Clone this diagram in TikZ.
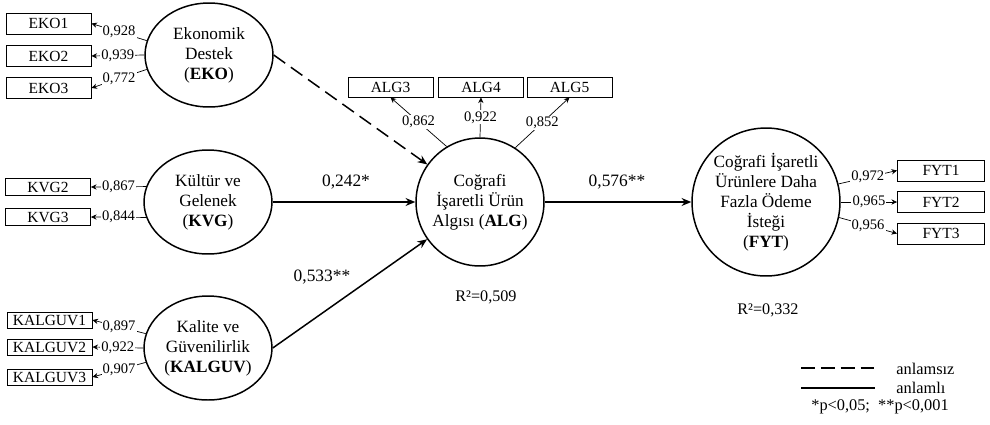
\documentclass[tikz,border=0pt]{standalone}
\usepackage{fontspec}
\setmainfont{Liberation Serif}
\usepackage{tikz}
\usetikzlibrary{shapes.geometric,arrows.meta}

\begin{document}
\begin{tikzpicture}[x=0.02cm,y=-0.02cm,
    latent/.style={draw,ellipse,line width=0.85pt,inner sep=0pt,minimum width=2.56cm,minimum height=2.08cm,align=center,font=\fontsize{9.8}{11.4}\selectfont},
    latentc/.style={draw,circle,line width=0.85pt,inner sep=0pt,align=center,font=\fontsize{9.8}{11.4}\selectfont},
    indic/.style={draw,rectangle,line width=0.5pt,inner sep=0pt,minimum width=1.7cm,minimum height=0.42cm,font=\fontsize{8.8}{10}\selectfont},
    load/.style={-{Stealth[length=3.2pt,width=3pt]},line width=0.4pt},
    wgt/.style={fill=white,inner sep=0.6pt,font=\fontsize{8.3}{9}\selectfont},
    effect/.style={-{Stealth[length=5.5pt,width=4.5pt]},line width=0.85pt},
    nonsig/.style={dash pattern=on 8pt off 4pt},
    coef/.style={inner sep=0pt,font=\fontsize{9.9}{11}\selectfont},
    rsq/.style={inner sep=0pt,font=\fontsize{9.2}{10}\selectfont},
    legtext/.style={inner sep=0pt,font=\fontsize{9.3}{10}\selectfont}
  ]
    \useasboundingbox (0,0) rectangle (990,424);

    % latent constructs
    \node[latent] (EKO) at (209,55) {Ekonomik\\Destek\\(\textbf{EKO})};
    \node[latent] (KVG) at (208,202) {Kültür ve\\Gelenek\\(\textbf{KVG})};
    \node[latent] (KALGUV) at (208,348) {Kalite ve\\Güvenilirlik\\(\textbf{KALGUV})};
    \node[latentc,minimum size=2.56cm] (ALG) at (480,202) {Coğrafi\\İşaretli Ürün\\Algısı (\textbf{ALG})};
    \node[latentc,minimum size=2.96cm] (FYT) at (766,202) {Coğrafi İşaretli\\Ürünlere Daha\\Fazla Ödeme\\İsteği\\(\textbf{FYT})};

    % indicators
    \foreach \n/\y in {1/23.5,2/56,3/88}
      \node[indic] (EKO\n) at (48.5,\y) {EKO\n};
    \foreach \n/\y in {2/187,3/217}
      \node[indic,minimum height=0.33cm] (KVG\n) at (48,\y) {KVG\n};
    \foreach \n/\y in {1/320,2/347,3/377}
      \node[indic,minimum height=0.32cm] (KALGUV\n) at (49.5,\y) {KALGUV\n};
    \foreach \n/\x in {3/390.5,4/481,5/569.5}
      \node[indic,minimum height=0.4cm] (ALG\n) at (\x,87) {ALG\n};
    \foreach \n/\y in {1/170.5,2/202,3/233.5}
      \node[indic,minimum width=1.74cm] (FYT\n) at (941,\y) {FYT\n};

    % loadings
    \foreach \n/\a/\w in {1/167/{0,928},2/180/{0,939},3/193/{0,772}}
      \draw[load] (EKO.\a) -- node[wgt] {\w} (EKO\n.east);
    \foreach \n/\a/\w in {2/166/{0,867},3/194/{0,844}}
      \draw[load] (KVG.\a) -- node[wgt] {\w} (KVG\n.east);
    \foreach \n/\a/\w in {1/167/{0,897},2/180/{0,922},3/193/{0,907}}
      \draw[load] (KALGUV.\a) -- node[wgt] {\w} (KALGUV\n.east);
    \foreach \n/\a/\w in {3/121/{0,862},4/90/{0,922},5/57/{0,852}}
      \draw[load] (ALG.\a) -- node[wgt] {\w} (ALG\n.south);
    \foreach \n/\a/\w in {1/14/{0,972},2/0/{0,965},3/-12/{0,956}}
      \draw[load] (FYT.\a) -- node[wgt] {\w} (FYT\n.west);

    % structural paths
    \draw[effect,nonsig] (EKO.east) -- (ALG);
    \draw[effect] (KVG) -- (ALG);
    \draw[effect] (KALGUV.east) -- (ALG);
    \draw[effect] (ALG) -- (FYT);

    \node[coef] (b1) at (346,182) {0,242*};
    \node[coef] (b2) at (322,277) {0,533**};
    \node[coef] (b3) at (617,182) {0,576**};
    \node[rsq] (r1) at (486,297) {R²=0,509};
    \node[rsq] (r2) at (768,310) {R²=0,332};

    % legend
    \coordinate (d1) at (801,368);
    \coordinate (d2) at (875,368);
    \coordinate (s1) at (801,388);
    \coordinate (s2) at (875,388);
    \draw[line width=0.85pt,dash pattern=on 7.9pt off 3.4pt] (d1) -- (d2);
    \draw[line width=0.85pt] (s1) -- (s2);
    \node[legtext,anchor=west] (lg1) at (896,369) {anlamsız};
    \node[legtext,anchor=west] (lg2) at (896,388) {anlamlı};
    \node[legtext] (lg3) at (880,407) {*p<0,05; \ **p<0,001};
\end{tikzpicture}
\end{document}
